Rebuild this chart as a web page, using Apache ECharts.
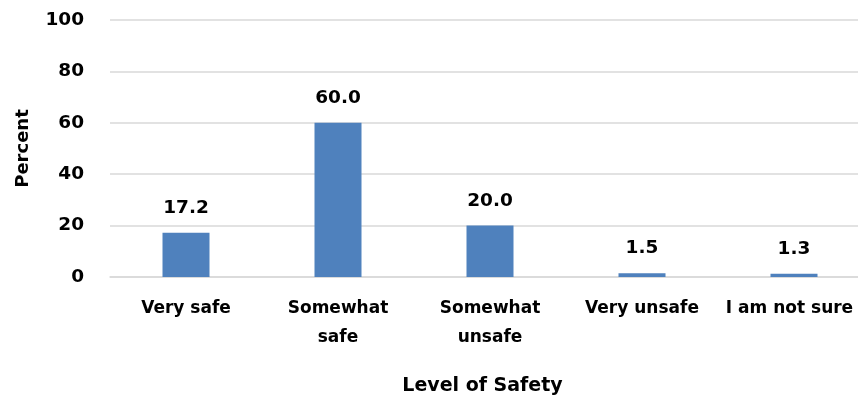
<!DOCTYPE html>
<html>
<head>
<meta charset="utf-8">
<script src="https://cdn.jsdelivr.net/npm/echarts@6/dist/echarts.min.js"></script>
<style>
  html, body { margin: 0; padding: 0; background: #fff; overflow: hidden; }
  #chart { width: 858px; height: 398px; }
</style>
</head>
<body>
<div id="chart"></div>
<script>
// Perceived level of safety, percent of respondents
const categories = ['Very safe', 'Somewhat\nsafe', 'Somewhat\nunsafe', 'Very unsafe', 'I am not sure'];
const percentValues = [17.2, 60.0, 20.0, 1.5, 1.3];
const yTicks = { min: 0, max: 100, interval: 20 };

const FONT = '"DejaVu Sans", sans-serif';
const chart = echarts.init(document.getElementById('chart'));

// the last category label is nudged left so it stays inside the canvas
const categoryData = categories.map((c, i) =>
  i === categories.length - 1 ? { value: c, textStyle: { padding: [0, 9, 0, 0] } } : c);

chart.setOption({
  animation: false,
  textStyle: { fontFamily: FONT },
  // plot band runs slightly past the right edge of the canvas
  grid: {
    left: 110, width: 760, top: 20, height: 257,
    containLabel: false, outerBoundsMode: 'none'
  },
  xAxis: {
    type: 'category',
    data: categoryData,
    name: 'Level of Safety',
    nameLocation: 'middle',
    nameGap: 100,
    nameTextStyle: {
      fontFamily: FONT, fontWeight: 'bold', fontSize: 19, color: '#000',
      padding: [0, 15, 0, 0]
    },
    axisLine: { lineStyle: { color: '#d9d9d9', width: 1.5 } },
    axisTick: { show: false },
    axisLabel: {
      fontFamily: FONT, fontWeight: 'bold', fontSize: 17, color: '#000',
      margin: 17, lineHeight: 29, interval: 0
    }
  },
  yAxis: {
    type: 'value',
    min: yTicks.min, max: yTicks.max, interval: yTicks.interval,
    name: 'Percent',
    nameLocation: 'middle',
    nameGap: 78,
    nameTextStyle: { fontFamily: FONT, fontWeight: 'bold', fontSize: 18, color: '#000' },
    axisLine: { show: false },
    axisTick: { show: false },
    splitLine: { lineStyle: { color: '#d9d9d9', width: 1.5 } },
    axisLabel: { fontFamily: FONT, fontWeight: 'bold', fontSize: 18.5, color: '#000', margin: 26 }
  },
  series: [{
    type: 'bar',
    data: percentValues,
    barWidth: 47,
    itemStyle: { color: '#4f81bd' },
    label: {
      show: true, position: 'top', distance: 15,
      fontFamily: FONT, fontWeight: 'bold', fontSize: 18.5, color: '#000',
      formatter: p => p.value.toFixed(1)
    }
  }]
});
</script>
</body>
</html>
